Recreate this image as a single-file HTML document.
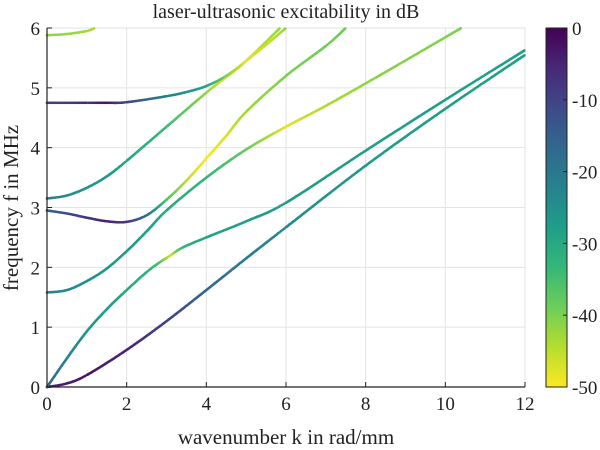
<!DOCTYPE html>
<html><head><meta charset="utf-8"><style>
body{margin:0;background:#fff;}
svg{display:block;font-family:"Liberation Serif",serif;}
</style></head><body>
<svg id="chart" width="600" height="450" xmlns="http://www.w3.org/2000/svg">
<text x="286" y="18" font-size="20" text-anchor="middle" fill="#222">laser-ultrasonic excitability in dB</text>
<text x="286" y="444" font-size="21" text-anchor="middle" fill="#222">wavenumber k in rad/mm</text>
<text transform="translate(18,208) rotate(-90)" font-size="21" text-anchor="middle" fill="#222">frequency f in MHz</text>
<g id="grid"></g>
<g id="marks"></g>
<g id="axes"></g>
<g id="cbar"></g>
</svg>
<script>
const xTicks=[0,2,4,6,8,10,12];
const yTicks=[0,1,2,3,4,5,6];
const cTicks=[0,-10,-20,-30,-40,-50];
// mode curves: k (rad/mm), f (MHz), excitability dB
const a0K=[0,0.5,1,2,3,4,5,6,8,10,12];
const a0F=[0,0.06,0.2,0.62,1.1,1.62,2.15,2.67,3.7,4.65,5.55];
const a0D=[-5,-4,-3,-5,-10,-16,-21,-24,-27,-28,-28];
const s0K=[0,0.5,1,1.5,2,2.5,2.8,3.1,3.4,4,5,6,8,10,12];
const s0F=[0,0.48,0.93,1.3,1.62,1.92,2.07,2.2,2.33,2.5,2.77,3.08,3.95,4.8,5.63];
const s0D=[-15,-22,-26,-28,-30,-32,-35,-47,-33,-29,-28,-27,-28,-28,-28];
const a1K=[0,0.5,1,1.5,2,2.5,3,4,5,6,7,8.33,10.4];
const a1F=[1.58,1.62,1.77,1.98,2.27,2.6,2.95,3.5,3.97,4.35,4.7,5.2,6.0];
const a1D=[-22,-23,-25,-26,-27,-28,-30,-33,-38,-48,-44,-41,-40];
const s1K=[0,0.5,1,1.5,2,2.5,3,3.5,4,4.5,5,6,7,7.5];
const s1F=[2.95,2.9,2.83,2.77,2.76,2.87,3.13,3.45,3.82,4.2,4.6,5.2,5.7,6.0];
const s1D=[-15,-12,-8,-5,-8,-18,-36,-45,-50,-47,-43,-40,-39,-39];
const s2K=[0,0.5,1,1.5,2,3,4,4.5,5,5.85];
const s2F=[3.15,3.2,3.33,3.52,3.78,4.35,4.92,5.18,5.45,6.0];
const s2D=[-22,-24,-26,-27,-29,-34,-42,-49,-46,-42];
const a2K=[0,1,1.5,2,3,3.5,4,4.5,5,5.5,6];
const a2F=[4.75,4.75,4.75,4.76,4.86,4.93,5.03,5.2,5.45,5.72,6.0];
const a2D=[-10,-6,-3,-10,-22,-26,-29,-40,-48,-46,-42];
const s3K=[0,0.5,1,1.2];
const s3F=[5.88,5.9,5.95,6.0];
const s3D=[-42,-42,-43,-44];

const NS="http://www.w3.org/2000/svg";
const X0=47,X1=525,Y0=387,Y1=28;
const xs=k=>X0+(X1-X0)*k/12;
const ys=f=>Y0-(Y0-Y1)*f/6;
const vir=[[68,1,84],[72,40,120],[62,74,137],[49,104,142],[38,130,142],[31,158,137],[53,183,121],[109,205,89],[180,222,44],[253,231,37]];
function col(db){let t=Math.max(0,Math.min(1,-db/50))*(vir.length-1);let i=Math.min(vir.length-2,Math.floor(t));let u=t-i;
 const c=vir[i].map((v,j)=>Math.round(v+(vir[i+1][j]-v)*u));return `rgb(${c[0]},${c[1]},${c[2]})`;}
function mk(tag,attrs,parent){const e=document.createElementNS(NS,tag);for(const a in attrs)e.setAttribute(a,attrs[a]);parent.appendChild(e);return e;}
const grid=document.getElementById('grid'),axes=document.getElementById('axes'),marks=document.getElementById('marks'),cb=document.getElementById('cbar');
xTicks.forEach(v=>{const l=mk('line',{x1:xs(v),x2:xs(v),y1:Y1,y2:Y0,stroke:'#e3e3e3','stroke-width':1},grid);
 
 
 const t=mk('text',{x:xs(v),y:Y0+23,'font-size':19,'text-anchor':'middle',fill:'#222'},axes);t.textContent=v;
 
 
 const tk=mk('line',{x1:xs(v),x2:xs(v),y1:Y0,y2:Y0-5,stroke:'#222'},axes);
 
 });
yTicks.forEach(v=>{const l=mk('line',{x1:X0,x2:X1,y1:ys(v),y2:ys(v),stroke:'#e3e3e3','stroke-width':1},grid);
 
 
 const t=mk('text',{x:X0-7,y:ys(v)+7,'font-size':19,'text-anchor':'end',fill:'#222'},axes);t.textContent=v;
 
 
 const tk=mk('line',{x1:X0,x2:X0+5,y1:ys(v),y2:ys(v),stroke:'#222'},axes);
 
 });
const ax=mk('path',{d:`M${X0},${Y1}V${Y0}H${X1}`,fill:'none',stroke:'#222','stroke-width':1.2},axes);


function draw(K,F,D,name){const g=mk('g',{},marks);
 
 
 const P=K.map((k,i)=>[xs(k),ys(F[i])]);const n=P.length;
 for(let i=0;i<n-1;i++){
  const p0=P[Math.max(0,i-1)],p1=P[i],p2=P[i+1],p3=P[Math.min(n-1,i+2)];
  const m1=[(p2[0]-p0[0])/2,(p2[1]-p0[1])/2],m2=[(p3[0]-p1[0])/2,(p3[1]-p1[1])/2];
  const steps=Math.max(1,Math.ceil(Math.hypot(p2[0]-p1[0],p2[1]-p1[1])/1.5));
  for(let j=0;j<steps;j++){const t=j/steps,t2=t*t,t3=t2*t;
   const h00=2*t3-3*t2+1,h10=t3-2*t2+t,h01=-2*t3+3*t2,h11=t3-t2;
   const x=h00*p1[0]+h10*m1[0]+h01*p2[0]+h11*m2[0];
   const y=h00*p1[1]+h10*m1[1]+h01*p2[1]+h11*m2[1];
   mk('circle',{cx:x.toFixed(1),cy:y.toFixed(1),r:1.35,fill:col(D[i]+(D[i+1]-D[i])*t)},g);}}
}
draw(a0K,a0F,a0D,'curve-a0');draw(s0K,s0F,s0D,'curve-s0');draw(a1K,a1F,a1D,'curve-a1');
draw(s1K,s1F,s1D,'curve-s1');draw(s2K,s2F,s2D,'curve-s2');draw(a2K,a2F,a2D,'curve-a2');draw(s3K,s3F,s3D,'curve-s3');
// colorbar
const CX=546,CW=21;
const defs=mk('defs',{},cb);const lg=mk('linearGradient',{id:'vg',x1:0,y1:0,x2:0,y2:1},defs);
vir.forEach((c,i)=>mk('stop',{offset:i/(vir.length-1),'stop-color':`rgb(${c})`},lg));
const bar=mk('rect',{x:CX,y:Y1,width:CW,height:Y0-Y1,fill:'url(#vg)',stroke:'#222','stroke-width':1},cb);


cTicks.forEach(v=>{const y=Y1+(Y0-Y1)*(-v/50);
 const t=mk('text',{x:CX+CW+5,y:y+7,'font-size':19,fill:'#222'},cb);t.textContent=v;
 
 
 const tk=mk('line',{x1:CX+CW-4,x2:CX+CW,y1:y,y2:y,stroke:'#222'},cb);
 
 });
</script>
</body></html>
